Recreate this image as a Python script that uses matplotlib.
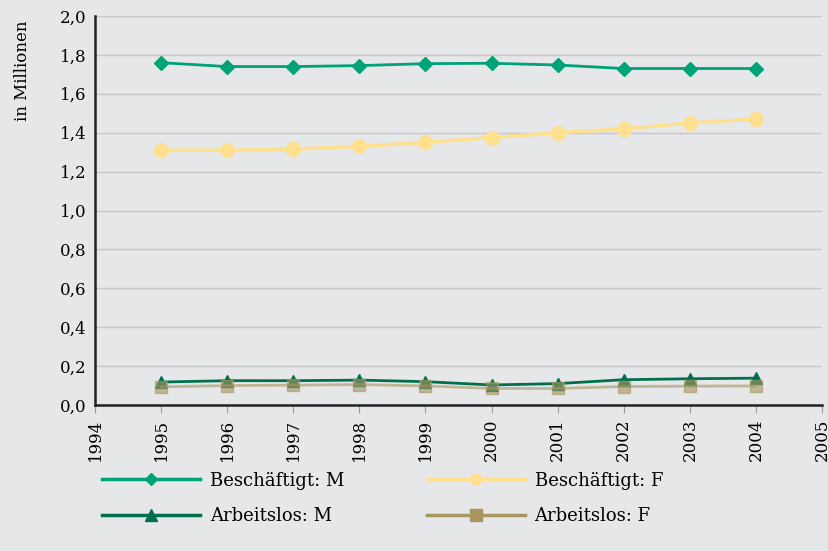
import matplotlib.pyplot as plt
from matplotlib.ticker import FuncFormatter

years = [1995, 1996, 1997, 1998, 1999, 2000, 2001, 2002, 2003, 2004]
besch_m = [1.76, 1.74, 1.74, 1.745, 1.755, 1.757, 1.748, 1.73, 1.73, 1.73]
besch_f = [1.31, 1.31, 1.315, 1.33, 1.35, 1.375, 1.40, 1.42, 1.45, 1.47]
arb_m = [0.118, 0.125, 0.125, 0.128, 0.12, 0.103, 0.11, 0.13, 0.135, 0.138]
arb_f = [0.093, 0.10, 0.102, 0.105, 0.098, 0.085, 0.085, 0.095, 0.097, 0.098]

bg = '#e6e7e9'
plt.rcParams['font.family'] = ['DejaVu Serif']

fig = plt.figure(figsize=(8.29, 5.51), dpi=100, facecolor=bg)
ax = fig.add_axes([95 / 829, 1 - 405 / 551, 727 / 829, 389 / 551])
ax.set_facecolor(bg)

ax.plot(years, besch_m, color='#00a278', lw=2, marker='D', ms=7.5)
ax.plot(years, besch_f, color='#ffe08e', lw=2.5, marker='o', ms=10)
ax.plot(years, arb_m, color='#006f4f', lw=2, marker='^', ms=8.5)
ax.plot(years, arb_f, color='#a89560', lw=2, marker='s', ms=9, alpha=0.6)

ax.set_xlim(1994, 2005)
ax.set_ylim(0, 2.0)
ax.set_xticks(range(1994, 2006))
ax.set_xticklabels([str(y) for y in range(1994, 2006)], rotation=90, fontsize=12)
ax.set_yticks([i * 0.2 for i in range(11)])
ax.yaxis.set_major_formatter(FuncFormatter(lambda v, p: f'{v:.1f}'.replace('.', ',')))
ax.tick_params(axis='y', labelsize=12, length=0, pad=6)
ax.tick_params(axis='x', length=6, color='#999999', pad=4)
ax.grid(axis='y', color='#c8c8c8', lw=1)
ax.set_axisbelow(True)
for s in ['top', 'right']:
    ax.spines[s].set_visible(False)
for s in ['left', 'bottom']:
    ax.spines[s].set_linewidth(1.8)
    ax.spines[s].set_color('#222222')
ax.set_ylabel('in Millionen', fontsize=12)
ax.yaxis.set_label_coords(-0.088, 0.86)

# legend proxies with smaller markers, ordered for row-wise reading
h_bm = plt.Line2D([], [], color='#00a278', lw=2.5, marker='D', ms=6)
h_bf = plt.Line2D([], [], color='#ffe08e', lw=2.5, marker='o', ms=8)
h_am = plt.Line2D([], [], color='#006f4f', lw=2.5, marker='^', ms=8)
h_af = plt.Line2D([], [], color='#a89560', lw=2.5, marker='s', ms=8)
fig.legend([h_bm, h_am, h_bf, h_af],
           ['Beschäftigt: M', 'Arbeitslos: M', 'Beschäftigt: F', 'Arbeitslos: F'],
           loc='lower left', bbox_to_anchor=(86 / 829, 0.017), ncol=2,
           frameon=False, fontsize=13, handlelength=5.4, handletextpad=0.55,
           columnspacing=4.6, labelspacing=0.98)

fig.savefig('out.png', dpi=100, facecolor=bg)
